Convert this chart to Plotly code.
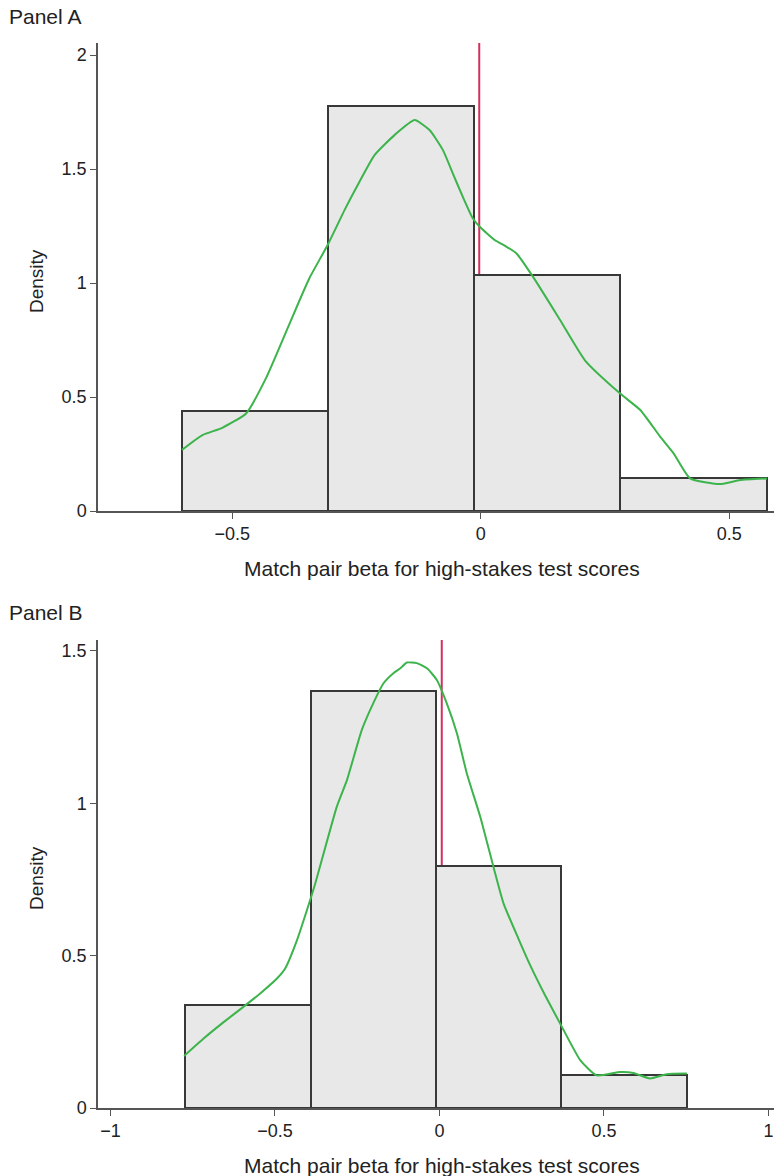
import plotly.graph_objects as go

# ---------------- data ----------------
A_edges = [-0.601, -0.307, -0.013, 0.281, 0.575]
A_density = [0.44, 1.776, 1.035, 0.143]
A_kde_x = [-0.601, -0.560, -0.520, -0.472, -0.432, -0.385, -0.345, -0.308, -0.274, -0.245,
           -0.214, -0.173, -0.133, -0.103, -0.076, -0.056, -0.036, -0.016, -0.002, 0.028,
           0.052, 0.072, 0.105, 0.159, 0.210, 0.280, 0.321, 0.361, 0.388, 0.421, 0.482,
           0.522, 0.576]
A_kde_y = [0.268, 0.333, 0.365, 0.428, 0.583, 0.820, 1.020, 1.167, 1.320, 1.440,
           1.560, 1.650, 1.715, 1.671, 1.583, 1.480, 1.378, 1.284, 1.247, 1.189,
           1.159, 1.130, 1.028, 0.840, 0.660, 0.516, 0.443, 0.326, 0.253, 0.143, 0.118,
           0.136, 0.143]
A_ref = -0.003

B_edges = [-0.773, -0.392, -0.011, 0.370, 0.751]
B_density = [0.337, 1.368, 0.794, 0.107]
B_kde_x = [-0.776, -0.717, -0.657, -0.596, -0.545, -0.494, -0.469, -0.433, -0.403, -0.378,
           -0.312, -0.281, -0.236, -0.201, -0.170, -0.140, -0.119, -0.099, -0.069, -0.038,
           -0.008, 0.022, 0.053, 0.083, 0.124, 0.164, 0.195, 0.240, 0.276, 0.321, 0.367,
           0.428, 0.478, 0.549, 0.590, 0.640, 0.691, 0.752]
B_kde_y = [0.171, 0.228, 0.281, 0.332, 0.376, 0.425, 0.458, 0.551, 0.649, 0.735,
           0.989, 1.077, 1.241, 1.329, 1.394, 1.427, 1.443, 1.462, 1.460, 1.443,
           1.405, 1.329, 1.230, 1.099, 0.956, 0.792, 0.671, 0.556, 0.468, 0.370, 0.277,
           0.157, 0.107, 0.118, 0.115, 0.097, 0.111, 0.113]
B_ref = 0.007

A_xticks = [-0.5, 0, 0.5]
A_xtext = ["\u22120.5", "0", "0.5"]
A_yticks = [0, 0.5, 1, 1.5, 2]
A_ytext = ["0", "0.5", "1", "1.5", "2"]
B_xticks = [-1, -0.5, 0, 0.5, 1]
B_xtext = ["\u22121", "\u22120.5", "0", "0.5", "1"]
B_yticks = [0, 0.5, 1, 1.5]
B_ytext = ["0", "0.5", "1", "1.5"]

panel_labels = ["Panel A", "Panel B"]
x_title = "Match pair beta for high-stakes test scores"
y_title = "Density"

# ---------------- style ----------------
W, H = 775, 1176
ML, MR, MT, MB = 98, 1, 43, 68
FONT = "Liberation Sans, Arial, Helvetica, sans-serif"
BAR_FILL = "#e8e8e8"
BAR_LINE = "#383838"
KDE_COL = "#3cb44b"
REF_COL = "#d4305e"
AXIS_COL = "#555555"
TXT = "#222222"

plot_h = H - MT - MB
plot_w = W - ML - MR


def py(p):  # pixel y -> paper
    return (H - MB - p) / plot_h


def px(p):  # pixel x -> paper
    return (p - ML) / plot_w


fig = go.Figure()

panels = [
    (A_edges, A_density, A_kde_x, A_kde_y, A_ref, "x", "y"),
    (B_edges, B_density, B_kde_x, B_kde_y, B_ref, "x2", "y2"),
]
for edges, dens, kx, ky, ref, xa, ya in panels:
    centers = [(edges[i] + edges[i + 1]) / 2 for i in range(len(dens))]
    widths = [edges[i + 1] - edges[i] for i in range(len(dens))]
    fig.add_trace(go.Bar(x=centers, y=dens, width=widths, xaxis=xa, yaxis=ya,
                         marker=dict(color=BAR_FILL, line=dict(color=BAR_LINE, width=2)),
                         showlegend=False, hoverinfo="skip"))
    fig.add_trace(go.Scatter(x=kx, y=ky, xaxis=xa, yaxis=ya, mode="lines",
                             line=dict(color=KDE_COL, width=2, shape="spline", smoothing=0.5),
                             showlegend=False, hoverinfo="skip"))
    fig.add_shape(type="line", xref=xa, yref=ya + " domain", x0=ref, x1=ref, y0=0, y1=1,
                  line=dict(color=REF_COL, width=2), layer="below")

axis_common = dict(showgrid=False, zeroline=False, showline=True, linecolor=AXIS_COL,
                   linewidth=1.5, ticks="outside", ticklen=6, tickwidth=1.2,
                   tickcolor=AXIS_COL, tickfont=dict(size=18, color=TXT, family=FONT),
                   fixedrange=True)

dom_A = [1 - 468 / plot_h, 1]
dom_B = [0, 468 / plot_h]

fig.update_layout(
    width=W, height=H,
    margin=dict(l=ML, r=MR, t=MT, b=MB),
    paper_bgcolor="white", plot_bgcolor="white",
    bargap=0,
    font=dict(family=FONT, color=TXT),
    xaxis=dict(axis_common, range=[-0.77, 0.59], domain=[0, 1], anchor="y",
               tickvals=A_xticks, ticktext=A_xtext),
    yaxis=dict(axis_common, range=[0, 2.053], domain=dom_A, anchor="x",
               tickvals=A_yticks, ticktext=A_ytext),
    xaxis2=dict(axis_common, range=[-1.038, 1.017], domain=[0, 1], anchor="y2",
                tickvals=B_xticks, ticktext=B_xtext),
    yaxis2=dict(axis_common, range=[0, 1.536], domain=dom_B, anchor="x2",
                tickvals=B_yticks, ticktext=B_ytext),
)

ann = []
for lbl, ly in zip(panel_labels, [16, 612]):
    ann.append(dict(text=lbl, xref="paper", yref="paper", x=px(7), y=py(ly),
                    xanchor="left", yanchor="middle", showarrow=False,
                    font=dict(size=21, color=TXT, family=FONT)))
for ty in [568, 1165]:
    ann.append(dict(text=x_title, xref="paper", yref="paper", x=px(442), y=py(ty),
                    xanchor="center", yanchor="middle", showarrow=False,
                    font=dict(size=21, color=TXT, family=FONT)))
for ty in [281, 878]:
    ann.append(dict(text=y_title, xref="paper", yref="paper", x=px(36), y=py(ty),
                    xanchor="center", yanchor="middle", showarrow=False, textangle=-90,
                    font=dict(size=19, color=TXT, family=FONT)))
fig.update_layout(annotations=ann)

fig.write_html("out.html")
